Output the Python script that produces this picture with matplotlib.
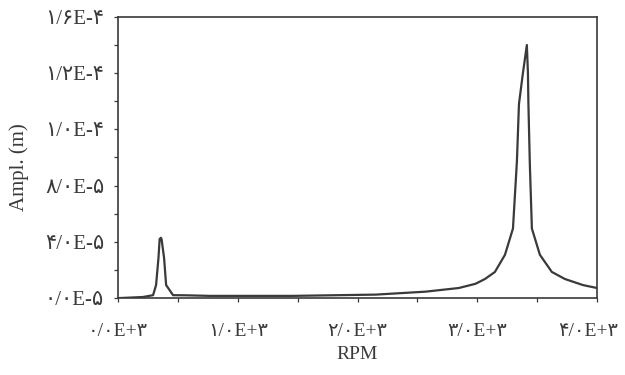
import matplotlib
matplotlib.use("Agg")
import matplotlib.pyplot as plt
import matplotlib.transforms as mtransforms
from matplotlib.ticker import MultipleLocator, FixedLocator, FixedFormatter

# Response curve: amplitude (m) against shaft speed (RPM)
rpm = [0, 208, 292, 317, 337, 347, 357, 363, 384, 401, 459, 569, 764,
       1458, 2153, 2569, 2847, 2986, 3065, 3148, 3232, 3299, 3332, 3349,
       3382, 3415, 3424, 3428, 3440, 3457, 3524, 3624, 3733, 3883, 4000]
ampl_e5 = [0.0, 0.08, 0.21, 0.93, 2.85, 4.2, 4.29, 4.2, 2.85, 0.93, 0.21,
           0.2, 0.16, 0.16, 0.25, 0.46, 0.72, 1.02, 1.36, 1.86, 3.08, 4.95,
           9.75, 13.8, 16.0, 18.0, 16.0, 13.8, 9.5, 4.95, 3.08, 1.86, 1.36,
           0.93, 0.72]
ampl = [v * 1e-5 for v in ampl_e5]

x_ticks = [0, 1000, 2000, 3000, 4000]
x_labels = ["۰/۰E+۳", "۱/۰E+۳", "۲/۰E+۳", "۳/۰E+۳", "۴/۰E+۳"]
y_ticks = [0, 4e-5, 8e-5, 1.2e-4, 1.6e-4, 2.0e-4]
y_labels = ["۰/۰E-۵", "۴/۰E-۵", "۸/۰E-۵", "۱/۰E-۴", "۱/۲E-۴", "۱/۶E-۴"]

fonts = ["Liberation Serif", "DejaVu Sans"]
ink = "#3a3a3a"

fig = plt.figure(figsize=(6.25, 3.75), dpi=100)
ax = fig.add_axes([0.189, 0.205, 0.766, 0.75])

ax.plot(rpm, ampl, color=ink, lw=1.6, solid_joinstyle="round")

ax.set_xlim(0, 4000)
ax.set_ylim(0, 2.0e-4)
ax.xaxis.set_major_locator(FixedLocator(x_ticks))
ax.xaxis.set_major_formatter(FixedFormatter(x_labels))
ax.xaxis.set_minor_locator(MultipleLocator(500))
ax.yaxis.set_major_locator(FixedLocator(y_ticks))
ax.yaxis.set_major_formatter(FixedFormatter(y_labels))
ax.yaxis.set_minor_locator(MultipleLocator(2e-5))

ax.tick_params(which="both", direction="out", length=3, width=0.9, color=ink)
ax.tick_params(axis="x", which="major", pad=15, labelsize=14, labelcolor=ink)
ax.tick_params(axis="y", which="major", pad=7, labelsize=15, labelcolor=ink)
for lab in ax.get_xticklabels() + ax.get_yticklabels():
    lab.set_family(fonts)

# pull the right-most x label slightly inward so it stays inside the figure
last = ax.get_xticklabels()[-1]
last.set_transform(last.get_transform()
                   + mtransforms.ScaledTranslation(-9 / 100, 0, fig.dpi_scale_trans))

for sp in ax.spines.values():
    sp.set_color(ink)
    sp.set_linewidth(1.2)

ax.set_xlabel("RPM", family=fonts, fontsize=14, color=ink, labelpad=4)
ax.set_ylabel("Ampl. (m)", family=fonts, fontsize=15, color=ink)
ax.yaxis.set_label_coords(-0.186, 0.466)

fig.savefig("out.png", dpi=100, facecolor="white")
